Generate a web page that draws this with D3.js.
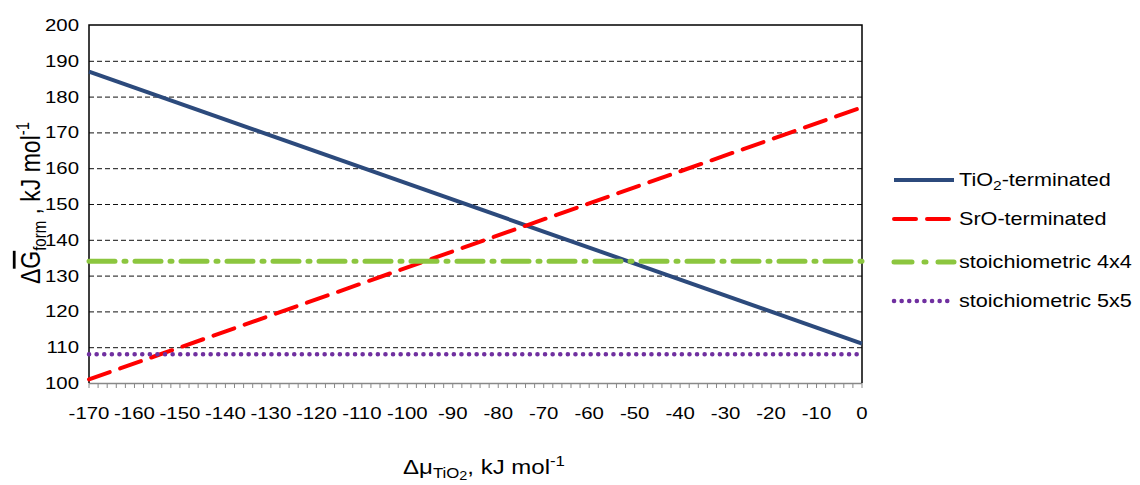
<!DOCTYPE html>
<html>
<head>
<meta charset="utf-8">
<script src="https://cdn.jsdelivr.net/npm/d3@7"></script>
<style>
    body{ margin:0; background:#fff; }
    text{ font-family: "Liberation Sans", Arial, sans-serif; fill:#000; }
</style>
</head>
<body>
<div id="chart"></div>
<script>
// data
var xEnds = [-170, 0];
var tio2 = [187, 111];
var sro = [101, 177];
var stoich4 = [134, 134];
var stoich5 = [108, 108];
var xTicks = d3.range(-170, 1, 10);
var yTicks = d3.range(100, 201, 10);
var seriesNames = ["TiO2-terminated", "SrO-terminated", "stoichiometric 4x4", "stoichiometric 5x5"];

var w = 1140, h = 485;
var m = {left: 89, right: 862, top: 25, bottom: 383};
var sx = 1.2; // the original text is a bit wide

var svg = d3.select("#chart").append("svg")
    .attr("width", w)
    .attr("height", h);

var x = d3.scaleLinear().domain([-170, 0]).range([m.left, m.right]);
var y = d3.scaleLinear().domain([100, 200]).range([m.bottom, m.top]);

// dashed gridlines
svg.append("g").selectAll("line")
    .data(yTicks.filter(function (d) { return d > 100 && d < 200; }))
    .enter().append("line")
    .attr("x1", m.left).attr("x2", m.right)
    .attr("y1", function (d) { return y(d) + 0.5; })
    .attr("y2", function (d) { return y(d) + 0.5; })
    .attr("stroke", "#111")
    .attr("stroke-width", 1)
    .attr("stroke-dasharray", "5,3");

// x axis, minor ticks every 2
svg.append("g").selectAll("line")
    .data(d3.range(-170, 1, 2))
    .enter().append("line")
    .attr("x1", function (d) { return x(d); })
    .attr("x2", function (d) { return x(d); })
    .attr("y1", m.bottom).attr("y2", m.bottom + 5)
    .attr("stroke", "#888");

svg.append("line")
    .attr("x1", m.left).attr("x2", m.right)
    .attr("y1", m.bottom + 0.5).attr("y2", m.bottom + 0.5)
    .attr("stroke", "#888").attr("stroke-width", 1.5);

svg.append("g").selectAll("text")
    .data(xTicks)
    .enter().append("text")
    .attr("transform", function (d) { return "translate(" + x(d) + "," + (m.bottom + 36) + ") scale(" + sx + ",1)"; })
    .attr("text-anchor", "middle")
    .style("font-size", "17px")
    .text(function (d) { return d; });

// y tick labels
svg.append("g").selectAll("text")
    .data(yTicks)
    .enter().append("text")
    .attr("transform", function (d) { return "translate(" + (m.left - 10) + "," + (y(d) + 6) + ") scale(" + sx + ",1)"; })
    .attr("text-anchor", "end")
    .style("font-size", "17px")
    .text(function (d) { return d; });

// frame: left, top, right black
svg.append("path")
    .attr("d", "M" + m.left + "," + m.bottom + "V" + m.top + "H" + m.right + "V" + m.bottom)
    .attr("fill", "none")
    .attr("stroke", "#000")
    .attr("stroke-width", 1.5);

var line = d3.line()
    .x(function (d) { return x(d[0]); })
    .y(function (d) { return y(d[1]); });

var styles = [
    {data: tio2, color: "#2c4a7c", width: 4, dash: null, cap: "butt"},
    {data: sro, color: "#ff0000", width: 4, dash: "22,11", cap: "round"},
    {data: stoich4, color: "#8cc63f", width: 5, dash: "26,9,2,9", cap: "round"},
    {data: stoich5, color: "#7030a0", width: 4.5, dash: "0.1,7.5", cap: "round"}
];

styles.forEach(function (s) {
    svg.append("path")
        .datum(xEnds.map(function (v, i) { return [v, s.data[i]]; }))
        .attr("d", line)
        .attr("fill", "none")
        .attr("stroke", s.color)
        .attr("stroke-width", s.width)
        .attr("stroke-linecap", s.cap)
        .attr("stroke-dasharray", s.dash);
});

// legend
var legendY = [180, 219, 262, 301];
var legend = svg.append("g");
styles.forEach(function (s, i) {
    legend.append("line")
        .attr("x1", 894).attr("x2", 954)
        .attr("y1", legendY[i]).attr("y2", legendY[i])
        .attr("stroke", s.color)
        .attr("stroke-width", s.width)
        .attr("stroke-linecap", s.cap)
        .attr("stroke-dasharray", i == 2 ? "18,12,2,12" : s.dash);
});

var t0 = legend.append("text")
    .attr("transform", "translate(959," + (legendY[0] + 6) + ") scale(" + sx + ",1)")
    .style("font-size", "18px");
t0.append("tspan").text("TiO");
t0.append("tspan").attr("dy", 4).style("font-size", "13px").text("2");
t0.append("tspan").attr("dy", -4).text("-terminated");
for (var i = 1; i < 4; i++) {
    legend.append("text")
        .attr("transform", "translate(959," + (legendY[i] + 6) + ") scale(" + sx + ",1)")
        .style("font-size", "18px")
        .text(seriesNames[i]);
}

// y axis title
var yt = svg.append("text")
    .attr("transform", "translate(40,203) scale(" + sx + ",1) rotate(-90)")
    .attr("text-anchor", "middle")
    .style("font-size", "23px");
yt.append("tspan").text("Δ");
yt.append("tspan").text("G").style("text-decoration", "overline");
yt.append("tspan").attr("dy", 5).style("font-size", "15px").text("form");
yt.append("tspan").attr("dy", -5).text(" , kJ mol");
yt.append("tspan").attr("dy", -9).style("font-size", "15px").text("-1");

// x axis title
var xt = svg.append("text")
    .attr("transform", "translate(484,474) scale(" + sx + ",1)")
    .attr("text-anchor", "middle")
    .style("font-size", "20px");
xt.append("tspan").text("Δμ");
xt.append("tspan").attr("dy", 4).style("font-size", "14px").text("TiO");
xt.append("tspan").attr("dy", 2).style("font-size", "12px").text("2");
xt.append("tspan").attr("dy", -6).text(", kJ mol");
xt.append("tspan").attr("dy", -8).style("font-size", "14px").text("-1");
</script>
</body>
</html>
